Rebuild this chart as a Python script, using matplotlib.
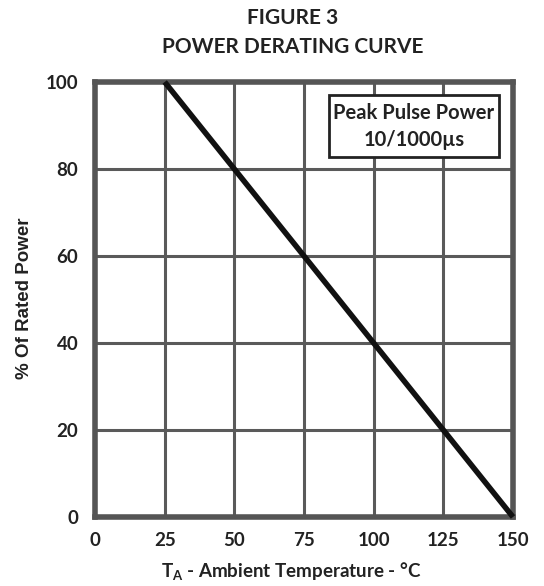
import matplotlib
matplotlib.use("Agg")
import matplotlib.pyplot as plt
from matplotlib.patches import Rectangle

# derating curve data
temp = [25, 150]
power = [100, 0]
x_ticks = [0, 25, 50, 75, 100, 125, 150]
y_ticks = [0, 20, 40, 60, 80, 100]

plt.rcParams['font.family'] = ['Lato', 'DejaVu Sans']
plt.rcParams['font.weight'] = 'bold'

fig = plt.figure(figsize=(5.44, 5.86), dpi=100)
ax = fig.add_axes([95 / 544, 1 - 517 / 586, (513 - 95) / 544, (517 - 82) / 586])

ax.set_xlim(0, 150)
ax.set_ylim(0, 100)
ax.set_xticks(x_ticks)
ax.set_yticks(y_ticks)
ax.tick_params(length=0, labelsize=13.5, colors='#222222')
ax.tick_params(axis='x', pad=11)
ax.tick_params(axis='y', pad=12)
for lab in ax.get_xticklabels() + ax.get_yticklabels():
    lab.set_fontweight('bold')

ax.grid(True, color='#5a5a5a', linewidth=2.2)
ax.set_axisbelow(True)
for sp in ax.spines.values():
    sp.set_linewidth(4)
    sp.set_color('#555555')

ax.plot(temp, power, color='#111111', linewidth=4, solid_capstyle='butt', clip_on=False, zorder=3)

# legend-like box, upper right
ax.add_patch(Rectangle((0.560, 0.828), 0.407, 0.1425, transform=ax.transAxes,
                       facecolor='white', edgecolor='#222222', linewidth=2, zorder=4))
ax.text(0.763, 0.929, 'Peak Pulse Power', transform=ax.transAxes, ha='center', va='center',
        fontsize=14.5, fontweight='bold', color='#222222', zorder=5)
ax.text(0.763, 0.867, '10/1000µs', transform=ax.transAxes, ha='center', va='center',
        fontsize=14.5, fontweight='bold', color='#222222', zorder=5)

fig.text(293 / 544, 1 - 18 / 586, 'FIGURE 3', ha='center', va='center',
         fontsize=15, fontweight='bold', color='#222222')
fig.text(293 / 544, 1 - 47 / 586, 'POWER DERATING CURVE', ha='center', va='center',
         fontsize=15, fontweight='bold', color='#222222')

fig.text(291 / 544, 1 - 572 / 586, r'T$_\mathregular{A}$ - Ambient Temperature - °C', ha='center', va='center',
         fontsize=13.5, fontweight='bold', color='#222222')
fig.text(25 / 544, 1 - 298 / 586, '% Of Rated Power', ha='center', va='center', rotation=90,
         fontsize=13.5, fontweight='bold', color='#222222', family=['Liberation Sans', 'DejaVu Sans'])

fig.savefig('out.png', dpi=100)
